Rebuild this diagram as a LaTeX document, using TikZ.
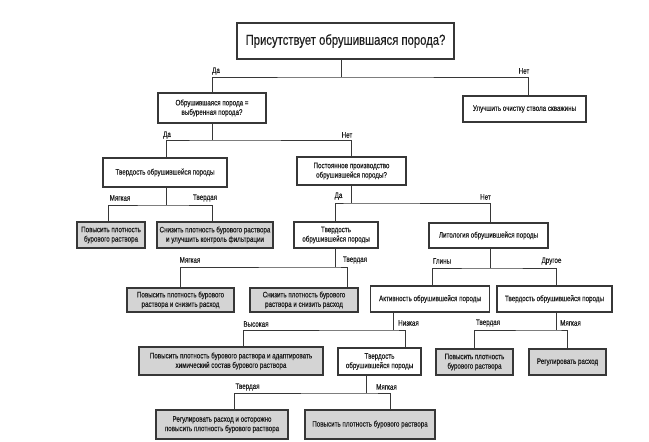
\documentclass[tikz,border=0pt]{standalone}
\usepackage{fontspec}
\setmainfont{Liberation Sans}[FakeStretch=0.78,FakeBold=0.3]
\definecolor{boxgray}{RGB}{212,212,212}
\definecolor{edge}{RGB}{55,55,55}
\definecolor{txt}{RGB}{30,30,30}
\begin{document}
\begin{tikzpicture}[x=1pt,y=-1pt,
  qbox/.style={draw=edge,line width=1.1pt,fill=white,inner sep=0.8pt,align=center,text=txt,font=\fontsize{8}{9.4}\selectfont},
  abox/.style={qbox,fill=boxgray},
  lbl/.style={inner sep=0pt,text=txt,font=\fontsize{8}{9}\selectfont},
  conn/.style={draw=edge,line width=0.7pt}]
\useasboundingbox (0,0) rectangle (649,442);
% nodes
\node[qbox,minimum width=217pt,minimum height=36pt,font=\fontsize{14.5}{16}\selectfont] (top) at (345.5,41) {Присутствует обрушившаяся порода?};
\node[qbox,minimum width=108pt,minimum height=30pt] (b2) at (212,108) {Обрушившаяся порода =\\выбуренная порода?};
\node[qbox,minimum width=123pt,minimum height=26pt] (b1) at (524.5,109) {Улучшить очистку ствола скважины};
\node[qbox,minimum width=124pt,minimum height=29pt] (b3) at (165,172.5) {Твердость обрушившейся породы};
\node[qbox,minimum width=109pt,minimum height=28pt] (b4) at (351.5,171) {Постоянное производство\\обрушившейся породы?};
\node[abox,minimum width=68pt,minimum height=26pt] (b5) at (111,235) {Повысить плотность\\бурового раствора};
\node[abox,minimum width=116pt,minimum height=26pt] (b6) at (215,235) {Снизить плотность бурового раствора\\и улучшить контроль фильтрации};
\node[qbox,minimum width=84pt,minimum height=26pt] (b7) at (336,235) {Твердость\\обрушившейся породы};
\node[qbox,minimum width=119pt,minimum height=25pt] (b8) at (488.5,235.5) {Литология обрушившейся породы};
\node[abox,minimum width=107pt,minimum height=24pt] (b11) at (180.5,300) {Повысить плотность бурового\\раствора и снизить расход};
\node[abox,minimum width=108pt,minimum height=24pt] (b12) at (304,300) {Снизить плотность бурового\\раствора и снизить расход};
\node[qbox,minimum width=119pt,minimum height=26pt] (b9) at (430,299) {Активность обрушившейся породы};
\node[qbox,minimum width=115pt,minimum height=26pt] (b10) at (554.5,299) {Твердость обрушившейся породы};
\node[abox,minimum width=184pt,minimum height=28pt] (b13) at (231,361) {Повысить плотность бурового раствора и адаптировать\\химический состав бурового раствора};
\node[qbox,minimum width=83pt,minimum height=27pt] (b14) at (379.5,361.5) {Твердость\\обрушившейся породы};
\node[abox,minimum width=77pt,minimum height=26pt] (b15) at (474.5,362) {Повысить плотность\\бурового раствора};
\node[abox,minimum width=77pt,minimum height=26pt] (b16) at (567.5,362) {Регулировать расход};
\node[abox,minimum width=132pt,minimum height=29pt] (b17) at (222,424.5) {Регулировать расход и осторожно\\повысить плотность бурового раствора};
\node[abox,minimum width=130pt,minimum height=29pt] (b18) at (370,424.5) {Повысить плотность бурового раствора};
% junctions
\coordinate (j1) at (341,77);
\coordinate (j2) at (212,140);
\coordinate (j3) at (166,205);
\coordinate (j4) at (351,203);
\coordinate (j5) at (335,267);
\coordinate (j6) at (490,268);
\coordinate (j7) at (393,330);
\coordinate (j8) at (556,330);
\coordinate (j9) at (366,393);
% connectors
\draw[conn] ([xshift=-4.5pt]top.south) -- (j1);
\draw[conn] (b2.north) |- (j1) -| ([xshift=3.5pt]b1.north);
\draw[conn] (b2.south) -- (j2);
\draw[conn] ([xshift=1pt]b3.north) |- (j2) -| ([xshift=-0.5pt]b4.north);
\draw[conn] ([xshift=1pt]b3.south) -- (j3);
\draw[conn] ([xshift=-3pt]b5.north) |- (j3) -| ([xshift=-3pt]b6.north);
\draw[conn] ([xshift=-0.5pt]b4.south) -- (j4);
\draw[conn] ([xshift=-1pt]b7.north) |- (j4) -| ([xshift=1.5pt]b8.north);
\draw[conn] ([xshift=-1pt]b7.south) -- (j5);
\draw[conn] ([xshift=-0.5pt]b11.north) |- (j5) -| ([xshift=43pt]b12.north);
\draw[conn] ([xshift=1.5pt]b8.south) -- (j6);
\draw[conn] ([xshift=2pt]b9.north) |- (j6) -| ([xshift=1.5pt]b10.north);
\draw[conn] ([xshift=-37pt]b9.south) -- (j7);
\draw[conn] ([xshift=12pt]b13.north) |- (j7) -| ([xshift=25.5pt]b14.north);
\draw[conn] ([xshift=1.5pt]b10.south) -- (j8);
\draw[conn] ([xshift=-0.5pt]b15.north) |- (j8) -| ([xshift=-0.5pt]b16.north);
\draw[conn] ([xshift=-13.5pt]b14.south) -- (j9);
\draw[conn] ([xshift=12pt]b17.north) |- (j9) -| ([xshift=20pt]b18.north);
% labels
\node[lbl] (l1) at (216,71) {Да};
\node[lbl] (l2) at (524,71) {Нет};
\node[lbl] (l3) at (167,135) {Да};
\node[lbl] (l4) at (347,135) {Нет};
\node[lbl] (l5) at (120,198) {Мягкая};
\node[lbl] (l6) at (205,198) {Твердая};
\node[lbl] (l7) at (338.5,196) {Да};
\node[lbl] (l8) at (485.5,197) {Нет};
\node[lbl] (l9) at (442,261) {Глины};
\node[lbl] (l10) at (551.5,261) {Другое};
\node[lbl] (l11) at (190,260) {Мягкая};
\node[lbl] (l12) at (355,260) {Твердая};
\node[lbl] (l13) at (256,324) {Высокая};
\node[lbl] (l14) at (408.5,323) {Низкая};
\node[lbl] (l15) at (488,323) {Твердая};
\node[lbl] (l16) at (570.5,323) {Мягкая};
\node[lbl] (l17) at (386.5,387) {Мягкая};
\node[lbl] (l18) at (247.5,387) {Твердая};
\end{tikzpicture}
\end{document}
